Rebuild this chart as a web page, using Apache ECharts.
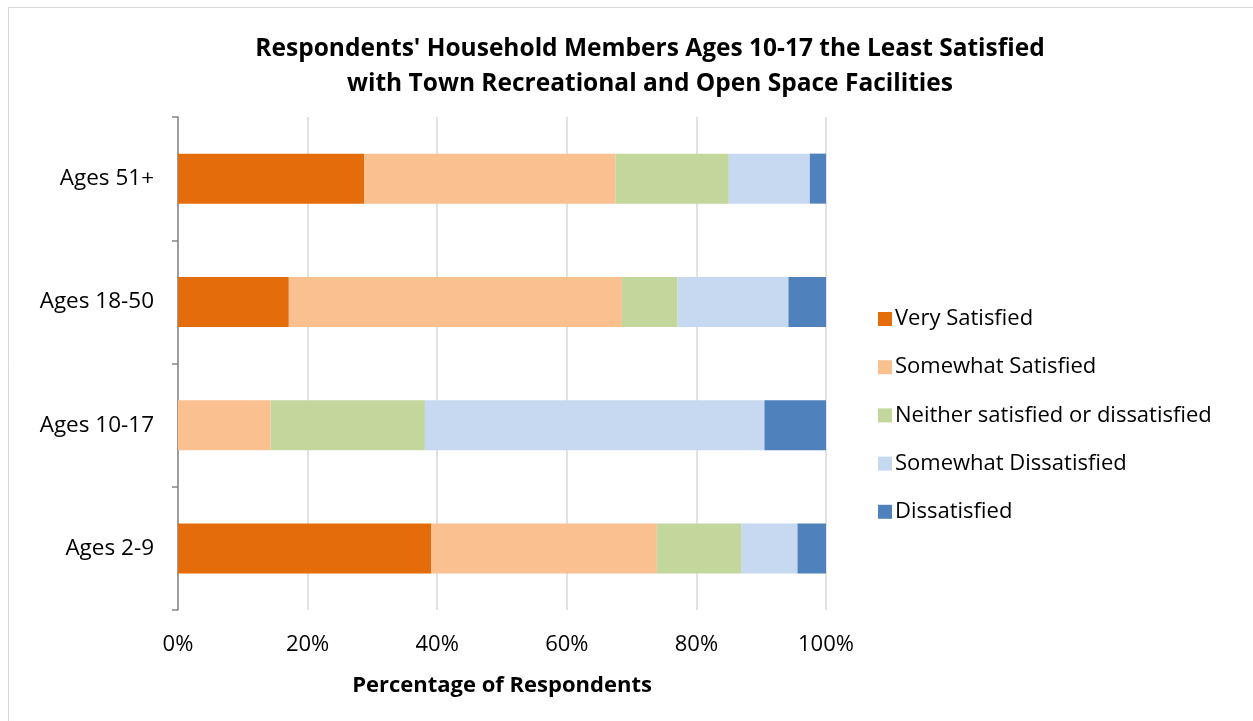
<!DOCTYPE html>
<html><head><meta charset="utf-8">
<script src="https://cdn.jsdelivr.net/npm/echarts@6/dist/echarts.min.js"></script>
<style>html,body{margin:0;padding:0;background:#fff}#c{width:1253px;height:721px}</style>
</head><body><div id="c"></div>
<script>
const categories = ["Ages 2-9", "Ages 10-17", "Ages 18-50", "Ages 51+"];
const seriesNames = ["Very Satisfied", "Somewhat Satisfied", "Neither satisfied or dissatisfied", "Somewhat Dissatisfied", "Dissatisfied"];
const verySatisfied = [39.1, 0, 17.1, 28.75];
const somewhatSatisfied = [34.8, 14.3, 51.4, 38.75];
const neither = [13.0, 23.8, 8.6, 17.5];
const somewhatDissatisfied = [8.7, 52.4, 17.1, 12.5];
const dissatisfied = [4.4, 9.5, 5.8, 2.5];
const xTicks = [0, 20, 40, 60, 80, 100];
const colors = ["#E46C0A", "#FAC090", "#C3D69B", "#C6D9F1", "#4F81BD"];

const values = [verySatisfied, somewhatSatisfied, neither, somewhatDissatisfied, dissatisfied];
const font = "'Open Sans', 'Liberation Sans', sans-serif";
const chart = echarts.init(document.getElementById('c'), null, {renderer: 'canvas'});
chart.setOption({
  animation: false,
  backgroundColor: '#fff',
  textStyle: {fontFamily: font},
  graphic: [{type: 'rect', shape: {x: 8.5, y: 7.5, width: 1260, height: 720}, style: {fill: 'none', stroke: '#d9d9d9', lineWidth: 1}}],
  title: {
    text: "Respondents' Household Members Ages 10-17 the Least Satisfied\nwith Town Recreational and Open Space Facilities",
    left: 645, top: 27, textAlign: 'center',
    textStyle: {fontFamily: font, fontWeight: 'bold', fontSize: 24.5, lineHeight: 35, color: '#000'}
  },
  legend: {
    orient: 'vertical', left: 873, top: 303, itemGap: 26.2, itemWidth: 14, itemHeight: 14,
    icon: 'rect', data: seriesNames,
    textStyle: {fontFamily: font, fontSize: 22, color: '#000', padding: [0, 0, 0, -2]}
  },
  grid: {left: 178, right: 427, top: 117, bottom: 111},
  xAxis: {
    type: 'value', min: xTicks[0], max: xTicks[xTicks.length - 1], interval: 20,
    name: 'Percentage of Respondents', nameLocation: 'middle', nameGap: 65,
    nameTextStyle: {fontFamily: font, fontWeight: 'bold', fontSize: 22, color: '#000'},
    axisLine: {show: false}, axisTick: {show: false},
    axisLabel: {formatter: '{value}%', fontFamily: font, fontSize: 22, color: '#000', margin: 24},
    splitLine: {show: true, lineStyle: {color: '#d9d9d9', width: 1.5}}
  },
  yAxis: {
    type: 'category', data: categories,
    axisLine: {show: true, lineStyle: {color: '#868686', width: 1.5}},
    axisTick: {show: true, length: 6, lineStyle: {color: '#868686', width: 1.5}},
    axisLabel: {fontFamily: font, fontSize: 22.5, color: '#000', margin: 24}
  },
  series: seriesNames.map((n, i) => ({
    name: n, type: 'bar', stack: 'total', data: values[i], barWidth: 50,
    itemStyle: {color: colors[i]}
  }))
});
</script></body></html>
